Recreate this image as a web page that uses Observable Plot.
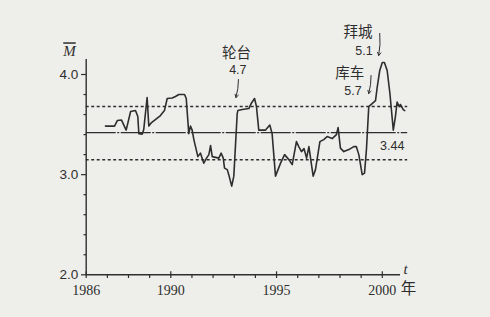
<!DOCTYPE html>
<html><head><meta charset="utf-8">
<script src="https://cdn.jsdelivr.net/npm/d3@7"></script>
<script src="https://cdn.jsdelivr.net/npm/@observablehq/plot@0.6"></script>
<style>
html,body{margin:0;padding:0;background:#eeeeeb;}
#chart svg{display:block;}
.mbar text{text-decoration:overline;}
</style></head><body><div id="chart"></div>
<script>
// time series (year, M-bar)
const years = [1986.91,1987.34,1987.47,1987.67,1987.89,1988.10,1988.33,1988.44,1988.49,1988.65,1988.72,1988.88,1988.96,1989.09,1989.51,1989.70,1989.83,1990.07,1990.22,1990.38,1990.65,1990.73,1990.85,1990.93,1991.01,1991.09,1991.28,1991.40,1991.56,1991.69,1991.80,1991.88,1991.96,1992.27,1992.38,1992.48,1992.54,1992.67,1992.74,1992.88,1992.98,1993.14,1993.17,1993.38,1993.69,1993.80,1993.96,1994.05,1994.16,1994.48,1994.68,1994.79,1994.95,1995.19,1995.38,1995.58,1995.74,1995.94,1996.05,1996.18,1996.30,1996.42,1996.53,1996.73,1996.84,1997.05,1997.23,1997.39,1997.63,1997.83,1997.91,1998.02,1998.18,1998.42,1998.65,1998.77,1998.89,1999.05,1999.16,1999.25,1999.36,1999.52,1999.68,1999.76,1999.88,2000.00,2000.10,2000.23,2000.36,2000.52,2000.62,2000.70,2000.80,2000.86,2000.99,2001.06];
const values = [3.485,3.485,3.54,3.545,3.445,3.63,3.64,3.58,3.41,3.405,3.45,3.77,3.485,3.52,3.59,3.64,3.76,3.765,3.78,3.80,3.80,3.76,3.41,3.485,3.445,3.35,3.18,3.215,3.115,3.165,3.20,3.29,3.18,3.165,3.215,3.165,3.065,3.05,3.00,2.885,2.985,3.61,3.64,3.65,3.66,3.71,3.76,3.68,3.445,3.445,3.495,3.41,2.985,3.115,3.20,3.15,3.10,3.33,3.28,3.23,3.26,3.165,3.28,2.985,3.05,3.33,3.35,3.38,3.36,3.40,3.47,3.265,3.23,3.25,3.28,3.28,3.20,3.00,3.015,3.25,3.68,3.71,3.74,3.875,4.04,4.12,4.12,4.04,3.81,3.445,3.58,3.725,3.68,3.70,3.65,3.64];

// reference levels
const meanLevel = 3.42;
const bandLevels = [3.15, 3.68];
const meanLabel = "3.44";

// ticks
const xTickYears = [1986,1987,1988,1989,1990,1991,1992,1993,1994,1995,1996,1997,1998,1999,2000];
const xLabelYears = [1986, 1990, 1995, 2000];
const yMinorTicks = [2.2,2.4,2.6,2.8,3.2,3.4,3.6,3.8];
const yMajorTicks = [2.0, 3.0, 4.0];

// earthquake annotations
const quakeNames = ["轮台", "拜城", "库车"];
const quakeMags = ["4.7", "5.1", "5.7"];
const nameX = [1993.11, 1998.85, 1998.46];
const nameY = [4.21, 4.42, 4.01];
const magX = [1993.17, 1999.13, 1998.61];
const magY = [4.04, 4.23, 3.84];
const arrowX1 = [1993.20, 1999.88, 1999.47];
const arrowY1 = [3.95, 4.41, 3.99];
const arrowX2 = [1993.08, 1999.83, 1999.36];
const arrowY2 = [3.77, 4.19, 3.81];

const ink = "#2e2e2e";
const curve = years.map((y, i) => ({year: y, value: values[i]}));
const quakes = quakeNames.map((n, i) => ({name: n, mag: quakeMags[i], nx: nameX[i], ny: nameY[i], mx: magX[i], my: magY[i], ax1: arrowX1[i], ay1: arrowY1[i], ax2: arrowX2[i], ay2: arrowY2[i]}));

const plot = Plot.plot({
  width: 490, height: 317,
  marginLeft: 86, marginRight: 83, marginTop: 59, marginBottom: 43,
  style: {background: "transparent", color: ink, overflow: "visible"},
  x: {domain: [1986, 2000], range: [85.7, 381.8], label: null},
  y: {domain: [2, 4], range: [274.3, 74], label: null},
  marks: [
    // axis lines
    Plot.ruleX([1986], {y1: 2, y2: 4.15, stroke: ink, strokeWidth: 1.4}),
    Plot.ruleY([2], {x1: 1986, x2: 2000.86, stroke: ink, strokeWidth: 1.4}),
    // ticks
    Plot.axisX(xTickYears, {tickSize: 4, tickFormat: () => "", stroke: ink, strokeWidth: 1.2}),
    Plot.ruleX(xLabelYears, {y1: 2, y2: 2.03, stroke: ink, strokeWidth: 1.2}),
    Plot.axisY(yMinorTicks, {tickSize: 2.5, tickFormat: () => "", stroke: ink, strokeWidth: 1.2}),
    Plot.axisY(yMajorTicks, {tickSize: 5, tickFormat: () => "", stroke: ink, strokeWidth: 1.2}),
    // tick labels
    Plot.text(xLabelYears, {x: d => d, y: 2, dy: 16, text: d => String(d), fontFamily: "Liberation Serif", fontSize: 14, fill: ink}),
    Plot.text(yMajorTicks, {x: 1986, y: d => d, dx: -8, textAnchor: "end", text: d => d.toFixed(1), fontFamily: "Liberation Sans", fontSize: 13.5, fill: ink}),
    // axis titles
    Plot.text(["M"], {x: 1985.21, y: 4.23, text: d => d, fontFamily: "Liberation Serif", fontStyle: "italic", fontSize: 15, fill: ink, className: "mbar"}),
    Plot.text(["t"], {x: 2001.1, y: 2.06, text: d => d, fontFamily: "Liberation Serif", fontStyle: "italic", fontSize: 15, fill: ink}),
    Plot.text(["年"], {x: 2001.24, y: 1.855, text: d => d, fontFamily: "Noto Sans CJK SC", fontSize: 15.5, fill: ink}),
    // reference lines
    Plot.ruleY(bandLevels, {x1: 1986, x2: 2001.2, stroke: ink, strokeWidth: 1.5, strokeDasharray: "3,2.5"}),
    Plot.ruleY([meanLevel], {x1: 1986, x2: 2001.2, stroke: ink, strokeWidth: 1.4, strokeDasharray: "30,1.5,2,1.5"}),
    Plot.text([meanLabel], {x: 2000.47, y: 3.29, text: d => d, fontFamily: "Liberation Sans", fontSize: 12.5, fill: ink}),
    // series
    Plot.line(curve, {x: "year", y: "value", stroke: ink, strokeWidth: 1.6}),
    // annotations
    Plot.text(quakes, {x: "nx", y: "ny", text: "name", fontFamily: "Noto Sans CJK SC", fontSize: 14.5, fill: ink}),
    Plot.text(quakes, {x: "mx", y: "my", text: "mag", fontFamily: "Liberation Sans", fontSize: 12.5, fill: ink}),
    Plot.arrow(quakes, {x1: "ax1", y1: "ay1", x2: "ax2", y2: "ay2", stroke: ink, strokeWidth: 1, headLength: 5, bend: 8})
  ]
});
document.getElementById("chart").appendChild(plot);
</script></body></html>
